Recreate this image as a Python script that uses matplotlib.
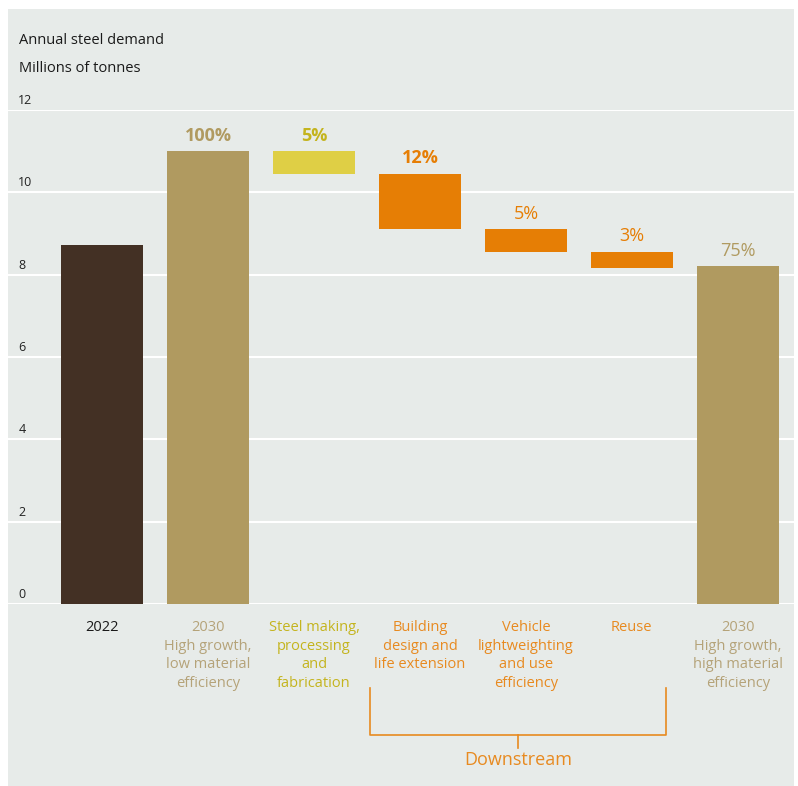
import matplotlib
matplotlib.use("Agg")
import matplotlib.pyplot as plt
from matplotlib.lines import Line2D
from matplotlib.patches import Rectangle
import matplotlib.transforms as mtransforms
import numpy as np

plt.rcParams['font.family'] = ['Open Sans', 'DejaVu Sans']

# data (millions of tonnes)
categories = ["2022",
              "2030\nHigh growth,\nlow material\nefficiency",
              "Steel making,\nprocessing\nand\nfabrication",
              "Building\ndesign and\nlife extension",
              "Vehicle\nlightweighting\nand use\nefficiency",
              "Reuse",
              "2030\nHigh growth,\nhigh material\nefficiency"]
demand_2022 = 8.72
demand_2030_low_eff = 11.0
reductions = [0.55, 1.35, 0.55, 0.40]
demand_2030_high_eff = 8.2
pct_labels = ["100%", "5%", "12%", "5%", "3%", "75%"]
yticks = [0, 2, 4, 6, 8, 10, 12]

c_dark = "#433024"
c_gold = "#b09a60"
c_gold_txt = "#b5a379"
c_yellow = "#dfcf45"
c_yellow_txt = "#c4b41e"
c_orange = "#e67e05"
c_orange_txt = "#e88a20"
c_bg = "#e7ebe9"

W, H = 798, 786
fig = plt.figure(figsize=(W / 100, H / 100), dpi=100)
fig.patch.set_facecolor("white")
fig.patches.append(Rectangle((8 / W, 0), (794 - 8) / W, 1 - 9 / H,
                             transform=fig.transFigure, facecolor=c_bg,
                             edgecolor="none", zorder=-10))

def fx(px):
    return px / W

def fy(py):
    return 1 - py / H

ax = fig.add_axes([fx(8), fy(604), fx(794) - fx(8), fy(110) - fy(604)])
ax.set_facecolor("none")
ax.set_ylim(0, 12)
ax.set_xlim(-0.887, 6.53)
for s in ax.spines.values():
    s.set_visible(False)
ax.set_xticks([])
ax.set_yticks([])
for v in yticks:
    ax.axhline(v, color="white", lw=1.5, zorder=0)
    ax.text(0.013, v + 0.07, str(v), transform=ax.get_yaxis_transform(),
            ha="left", va="bottom", fontsize=9, color="#222222")

width = 0.774
x = np.arange(len(categories))

# waterfall pieces
tops = [demand_2030_low_eff]
for r in reductions:
    tops.append(tops[-1] - r)
step_tops = tops[:-1]
step_bottoms = tops[1:]

ax.bar(x[0], demand_2022, width, color=c_dark, zorder=2)
ax.bar(x[1], demand_2030_low_eff, width, color=c_gold, zorder=2)
step_colors = [c_yellow, c_orange, c_orange, c_orange]
ax.bar(x[2:6], reductions, width, bottom=step_bottoms, color=step_colors, zorder=2)
ax.bar(x[6], demand_2030_high_eff, width, color=c_gold, zorder=2)

# percentage labels
label_tops = [demand_2030_low_eff] + step_tops + [demand_2030_high_eff]
pct_colors = [c_gold, c_yellow_txt, c_orange, c_orange, c_orange, c_gold]
pct_weights = ["bold", "bold", "bold", "normal", "normal", "normal"]
for xi, top, lab, col, wt in zip(x[1:], label_tops, pct_labels, pct_colors, pct_weights):
    ax.text(xi, top + 0.16, lab, ha="center", va="bottom", fontsize=13,
            color=col, fontweight=wt)

# category labels
cat_colors = ["#1a1a1a", c_gold_txt, c_yellow_txt, c_orange_txt, c_orange_txt,
              c_orange_txt, c_gold_txt]
cat_trans = mtransforms.blended_transform_factory(ax.transData, fig.transFigure)
for xi, lab, col in zip(x, categories, cat_colors):
    ax.text(xi, fy(620), lab, transform=cat_trans,
            ha="center", va="top", fontsize=10.5, color=col, linespacing=1.33)

# downstream bracket
bx0, bx1, bxm = 370, 666, 518
by0, by1, by2 = 688, 735, 748
for xs, ys in [([bx0, bx0, bx1, bx1], [by0, by1, by1, by0]), ([bxm, bxm], [by1, by2])]:
    fig.add_artist(Line2D([fx(v) for v in xs], [fy(v) for v in ys],
                          transform=fig.transFigure, color=c_orange_txt, lw=1.2))
fig.text(fx(bxm), fy(760), "Downstream", ha="center", va="center",
         fontsize=13, color=c_orange_txt)

# axis titles
fig.text(fx(19), fy(41), "Annual steel demand", ha="left", va="center",
         fontsize=10.5, color="#1a1a1a")
fig.text(fx(19), fy(68), "Millions of tonnes", ha="left", va="center",
         fontsize=10.5, color="#1a1a1a")

fig.savefig("out.png", dpi=100)
